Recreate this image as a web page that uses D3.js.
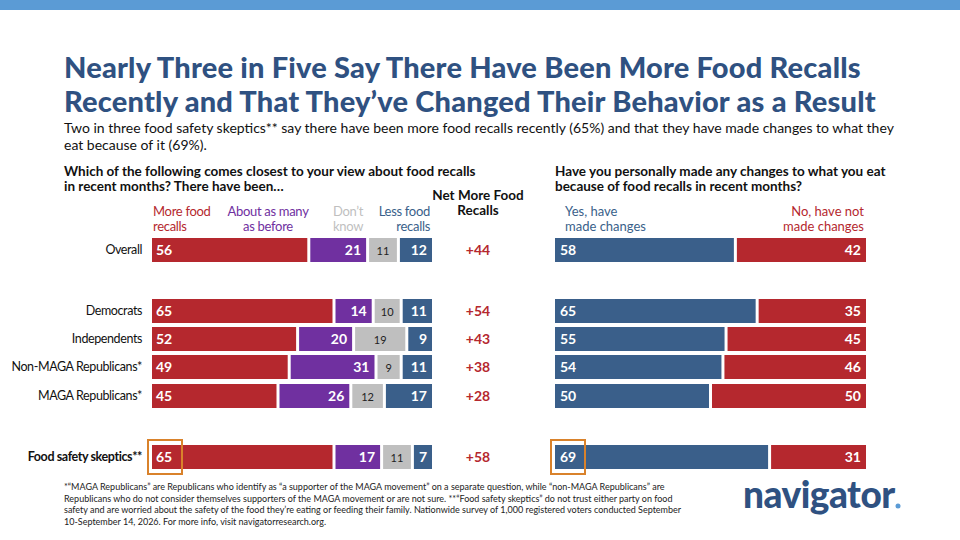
<!DOCTYPE html>
<html><head><meta charset="utf-8">
<script src="https://cdn.jsdelivr.net/npm/d3@7"></script>
<style>body{margin:0;background:#fff;font-family:Lato,"Open Sans",sans-serif}</style>
</head><body><svg id="c" width="960" height="540"></svg>
<script>
const groups = ["Overall","Democrats","Independents","Non-MAGA Republicans*","MAGA Republicans*","Food safety skeptics**"];
const more = [56,65,52,49,45,65];
const same = [21,14,20,31,26,17];
const dk = [11,10,19,9,12,11];
const less = [12,11,9,11,17,7];
const net = ["+44","+54","+43","+38","+28","+58"];
const yes = [58,65,55,54,50,69];
const no = [42,35,45,46,50,31];
const rowY = [250,311,339,367,396,457];

const svg = d3.select("#c");
const red="#b5282e", purple="#7030a0", grey="#bfbfbf", blue="#3a5f8a";
svg.append("rect").attr("width",960).attr("height",10).attr("fill","#5b9bd5");

svg.append("text").attr("x",64).attr("y",78).attr("font-size",29).attr("font-weight",900)
  .attr("fill","#2f5181").attr("letter-spacing",0.2).text("Nearly Three in Five Say There Have Been More Food Recalls");
svg.append("text").attr("x",64).attr("y",112).attr("font-size",29).attr("font-weight",900)
  .attr("fill","#2f5181").attr("letter-spacing",0.2).text("Recently and That They\u2019ve Changed Their Behavior as a Result");
svg.append("text").attr("x",64).attr("y",133).attr("font-size",14).attr("fill","#111")
  .text("Two in three food safety skeptics** say there have been more food recalls recently (65%) and that they have made changes to what they");
svg.append("text").attr("x",64).attr("y",150).attr("font-size",14).attr("fill","#111").text("eat because of it (69%).");

function lines(x,y,arr,opt){
  const t=svg.append("text").attr("x",x).attr("y",y).attr("font-size",opt.size||13.5)
    .attr("font-weight",opt.w||700).attr("fill",opt.fill||"#111").attr("text-anchor",opt.anchor||"start")
    .attr("letter-spacing",opt.ls||0);
  arr.forEach((s,i)=>t.append("tspan").attr("x",x).attr("dy",i?(opt.lh||15):0).text(s));
}
lines(64,176,["Which of the following comes closest to your view about food recalls","in recent months? There have been\u2026"],{});
lines(555,176,["Have you personally made any changes to what you eat","because of food recalls in recent months?"],{});
lines(153,216,["More food","recalls"],{fill:red,w:400,size:13,ls:-0.3});
lines(268,216,["About as many","as before"],{fill:purple,w:400,size:13,anchor:"middle",ls:-0.3});
lines(348,216,["Don\u2019t","know"],{fill:grey,w:400,size:13,anchor:"middle",ls:-0.3});
lines(430,216,["Less food","recalls"],{fill:blue,w:400,size:13,anchor:"end",ls:-0.3});
lines(478,200,["Net More Food","Recalls"],{size:13.5,anchor:"middle"});
lines(565,216,["Yes, have","made changes"],{fill:blue,w:400,size:13});
lines(864,216,["No, have not","made changes"],{fill:red,w:400,size:13,anchor:"end"});

const x = d3.scaleLinear().domain([0,100]).range([152,432]);
const x2 = d3.scaleLinear().domain([0,100]).range([555,866]);
const bh=24, gap=3;
groups.forEach((g,i)=>{
  const y=rowY[i];
  svg.append("text").attr("x",142).attr("y",y+4).attr("text-anchor","end").attr("font-size",12.5)
    .attr("letter-spacing",-0.4).attr("font-weight",i==5?700:400).attr("fill","#111").text(g);
  const segs=[[more[i],red,"#fff"],[same[i],purple,"#fff"],[dk[i],grey,"#222"],[less[i],blue,"#fff"]];
  let c=0;
  segs.forEach(([v,col,tc],k)=>{
    const x0=x(c)+(k?gap/2:0), x1=x(c+v)-(k<3?gap/2:0);
    svg.append("rect").attr("x",x0).attr("y",y-bh/2).attr("width",x1-x0).attr("height",bh).attr("fill",col);
    const t=svg.append("text").attr("y",y+5).attr("fill",tc).attr("font-size",k==2?11:14).attr("font-weight",k==2?400:700);
    if(k==0) t.attr("x",x0+4).text(v); else t.attr("x",x1-(k==2?(x1-x0)/2:5)).attr("text-anchor",k==2?"middle":"end").text(v);
    c+=v;
  });
  svg.append("text").attr("x",478).attr("y",y+5).attr("text-anchor","middle").attr("font-size",14)
    .attr("font-weight",700).attr("fill",red).text(net[i]);
  const ya=x2(yes[i])-gap/2;
  svg.append("rect").attr("x",x2(0)).attr("y",y-bh/2).attr("width",ya-x2(0)).attr("height",bh).attr("fill",blue);
  svg.append("rect").attr("x",ya+gap).attr("y",y-bh/2).attr("width",x2(100)-ya-gap).attr("height",bh).attr("fill",red);
  svg.append("text").attr("x",x2(0)+5).attr("y",y+5).attr("fill","#fff").attr("font-size",14).attr("font-weight",700).text(yes[i]);
  svg.append("text").attr("x",x2(100)-5).attr("y",y+5).attr("text-anchor","end").attr("fill","#fff").attr("font-size",14).attr("font-weight",700).text(no[i]);
});
const sy=rowY[5];
[x(0)-4, x2(0)-4].forEach(bx=>svg.append("rect").attr("x",bx).attr("y",sy-17).attr("width",34).attr("height",34)
  .attr("fill","none").attr("stroke","#d9822b").attr("stroke-width",2));

lines(64,490,["*\u201CMAGA Republicans\u201D are Republicans who identify as \u201Ca supporter of the MAGA movement\u201D on a separate question, while \u201Cnon-MAGA Republicans\u201D are",
"Republicans who do not consider themselves supporters of the MAGA movement or are not sure. **\u201CFood safety skeptics\u201D do not trust either party on food",
"safety and are worried about the safety of the food they\u2019re eating or feeding their family. Nationwide survey of 1,000 registered voters conducted September",
"10-September 14, 2026. For more info, visit navigatorresearch.org."],{size:9,w:400,lh:11.5,fill:"#222"});
svg.append("text").attr("x",743).attr("y",508).attr("font-size",37).attr("font-weight",900)
  .attr("fill","#2f5181").attr("letter-spacing",-0.5).text("navigator");
svg.append("circle").attr("cx",898).attr("cy",506).attr("r",2.5).attr("fill","#5b9bd5");
</script></body></html>
